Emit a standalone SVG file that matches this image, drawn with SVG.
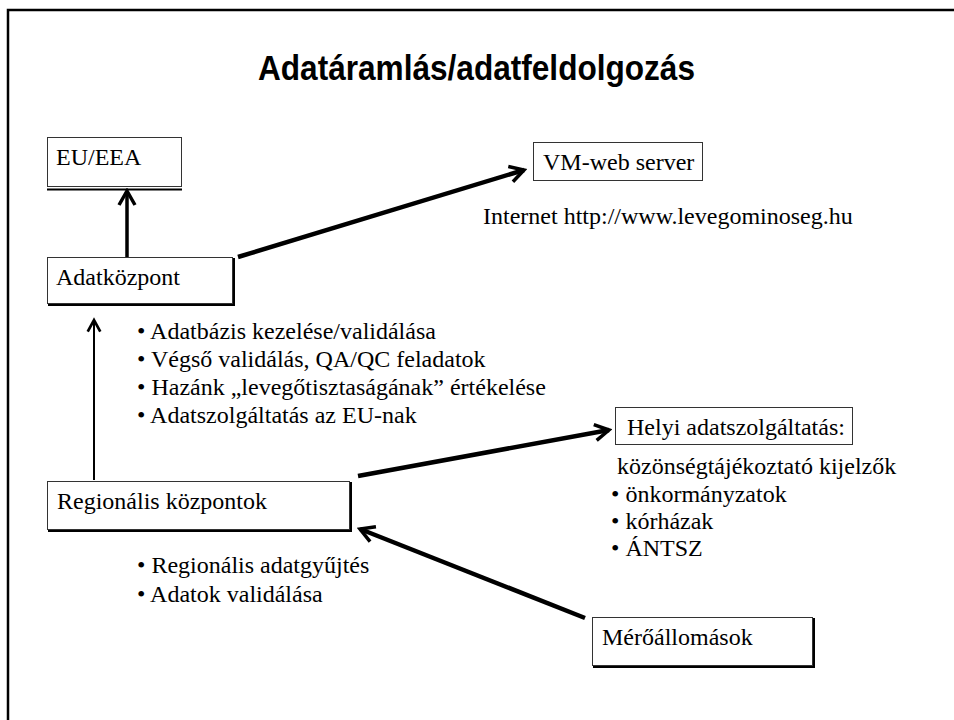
<svg xmlns="http://www.w3.org/2000/svg" width="954" height="720" viewBox="0 0 954 720">
<style>
.t{font-family:"Liberation Serif","Times New Roman",serif;font-size:24px;fill:#000}
.title{font-family:"Liberation Sans",Arial,sans-serif;font-weight:bold;font-size:35px;fill:#000}
.box{fill:#fff;stroke:#333;stroke-width:1}
.sh{fill:none;stroke:#000;stroke-width:2}
.con{stroke:#000;fill:none;stroke-linecap:butt}
</style>
<defs>
<marker id="ah" viewBox="0 0 20 20" refX="17" refY="10" markerWidth="20" markerHeight="20" markerUnits="userSpaceOnUse" orient="auto">
<path d="M3,2 L17,10 L3,18" fill="none" stroke="#000" stroke-width="3.5" stroke-linejoin="miter"/>
</marker>
<marker id="ah2" viewBox="0 0 20 20" refX="17" refY="10" markerWidth="18" markerHeight="18" markerUnits="userSpaceOnUse" orient="auto">
<path d="M4,3 L17,10 L4,17" fill="none" stroke="#000" stroke-width="3" stroke-linejoin="miter"/>
</marker>
</defs>
<rect width="954" height="720" fill="#fff"/>
<rect x="8" y="10" width="960" height="730" fill="none" stroke="#000" stroke-width="2.5"/>
<text class="title" x="258" y="80" textLength="437" lengthAdjust="spacingAndGlyphs">Adatáramlás/adatfeldolgozás</text>

<g id="connectors">
<line class="con" x1="127" y1="257" x2="127" y2="191" stroke-width="3.5" marker-end="url(#ah)"/>
<line class="con" x1="238" y1="257" x2="524" y2="170" stroke-width="4.5" marker-end="url(#ah)"/>
<line class="con" x1="94" y1="480" x2="94" y2="320" stroke-width="2" marker-end="url(#ah2)"/>
<line class="con" x1="358" y1="476" x2="609" y2="430" stroke-width="4.5" marker-end="url(#ah)"/>
<line class="con" x1="585" y1="618" x2="360" y2="529" stroke-width="4.5" marker-end="url(#ah)"/>
</g>

<g id="eu-eea">
<line class="sh" x1="47" y1="189.5" x2="182" y2="189.5" stroke-width="1.5"/>
<rect class="box" x="47.5" y="137.5" width="134" height="49"/>
<text class="t" x="56" y="165">EU/EEA</text>
</g>
<g id="adatkozpont">
<polyline class="sh" points="48,305 234,305 234,258"/>
<rect class="box" x="47.5" y="257.5" width="185" height="46"/>
<text class="t" x="56" y="285">Adatközpont</text>
</g>
<g id="vm-web-server">
<rect class="box" x="533.5" y="142.5" width="169" height="38"/>
<text class="t" x="543" y="170">VM-web server</text>
</g>
<text class="t" x="483" y="224">Internet http://www.levegominoseg.hu</text>

<g id="adatkozpont-notes">
<text class="t" x="137" y="339">• Adatbázis kezelése/validálása</text>
<text class="t" x="137" y="367">• Végső validálás, QA/QC feladatok</text>
<text class="t" x="137" y="395">• Hazánk „levegőtisztaságának” értékelése</text>
<text class="t" x="137" y="423">• Adatszolgáltatás az EU-nak</text>
</g>

<g id="regionalis">
<polyline class="sh" points="48,531 351,531 351,482"/>
<rect class="box" x="47.5" y="481.5" width="302" height="48"/>
<text class="t" x="57" y="509">Regionális központok</text>
</g>
<g id="regionalis-notes">
<text class="t" x="137" y="573">• Regionális adatgyűjtés</text>
<text class="t" x="137" y="602">• Adatok validálása</text>
</g>

<g id="helyi">
<rect class="box" x="615.5" y="407.5" width="237" height="37"/>
<text class="t" x="627" y="435">Helyi adatszolgáltatás:</text>
</g>
<g id="helyi-notes">
<text class="t" x="617" y="474">közönségtájékoztató kijelzők</text>
<text class="t" x="611" y="502">• önkormányzatok</text>
<text class="t" x="611" y="529">• kórházak</text>
<text class="t" x="611" y="556">• ÁNTSZ</text>
</g>

<g id="meroallomasok">
<polyline class="sh" points="593,667 814,667 814,618"/>
<rect class="box" x="592.5" y="617.5" width="220" height="48"/>
<text class="t" x="602" y="645">Mérőállomások</text>
</g>
</svg>
